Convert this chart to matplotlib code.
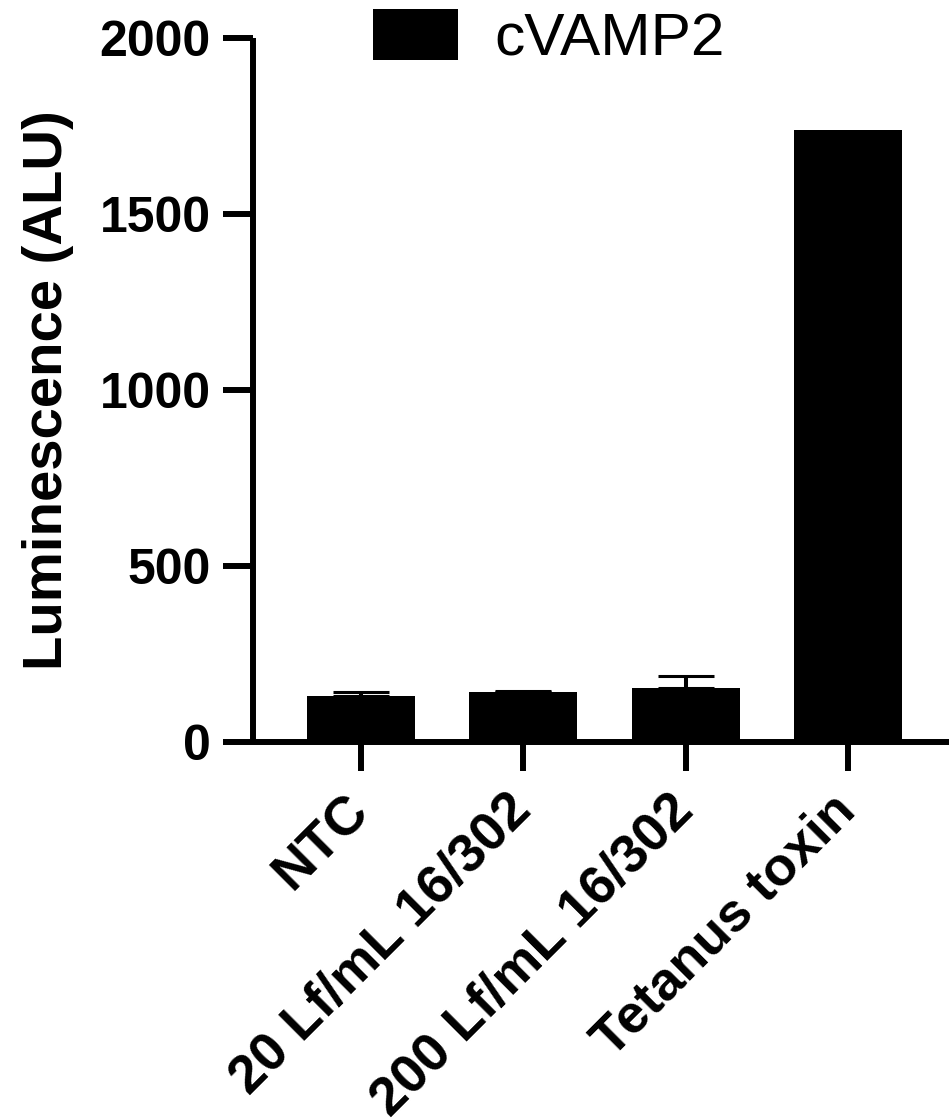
import matplotlib
matplotlib.use('Agg')
import matplotlib.pyplot as plt
import matplotlib.transforms as mtransforms
from matplotlib.patches import Patch

plt.rcParams['font.family'] = ['Liberation Sans', 'DejaVu Sans']

# data
categories = ['NTC', '20 Lf/mL 16/302', '200 Lf/mL 16/302', 'Tetanus toxin']
luminescence = [131, 141, 154, 1739]
error_up = [12, 5, 33, 0]
series_name = 'cVAMP2'
y_ticks = [0, 500, 1000, 1500, 2000]

fig = plt.figure(figsize=(9.49, 11.19), dpi=100)
ax = fig.add_axes([253 / 949, 1 - 742 / 1119, 696 / 949, 704 / 1119])

x = list(range(len(categories)))
ax.bar(x, luminescence, width=0.665, color='black', zorder=2)

# only the bars that have an error bar
err_x = [xi for xi, e in zip(x, error_up) if e > 0]
err_y = [v for v, e in zip(luminescence, error_up) if e > 0]
err_v = [e for e in error_up if e > 0]
ax.errorbar(
    err_x,
    err_y,
    yerr=[[0] * len(err_v), err_v],
    fmt='none',
    ecolor='black',
    elinewidth=2.9,
    capsize=20.5,
    capthick=2.2,
    zorder=1,
)

for side in ['top', 'right']:
    ax.spines[side].set_visible(False)
for side in ['left', 'bottom']:
    ax.spines[side].set_linewidth(4.3)
    ax.spines[side].set_capstyle('butt')

ax.tick_params(axis='y', length=21.6, width=4.3, pad=9)
ax.tick_params(axis='x', length=21, width=4.3, pad=10)

ax.set_xlim(-0.665, 3.62)
ax.set_ylim(0, 2000)
ax.set_yticks(y_ticks)
ax.set_xticks(x)
ax.set_xticklabels(
    categories,
    rotation=45,
    ha='right',
    va='top',
    rotation_mode='anchor',
    fontsize=39,
    fontweight='bold',
)
# nudge the slanted labels left, after tick_params (it resets transforms)
shift = mtransforms.ScaledTranslation(-18 / 100, 0, fig.dpi_scale_trans)
for lab in ax.get_xticklabels():
    lab.set_transform(lab.get_transform() + shift)
for lab in ax.get_yticklabels():
    lab.set_fontsize(36)
    lab.set_fontweight('bold')

ax.set_ylabel('Luminescence (ALU)', fontsize=40.5, fontweight='bold', labelpad=18)

handles = [Patch(facecolor='black', edgecolor='none', label=series_name)]
fig.legend(
    handles=handles,
    loc='center left',
    bbox_to_anchor=(372.7 / 949, 1 - 38 / 1119),
    frameon=False,
    borderpad=0,
    borderaxespad=0,
    fontsize=43.5,
    handlelength=1.42,
    handleheight=0.92,
    handletextpad=0.6,
)

plt.savefig('out.png', dpi=100)
plt.close()
